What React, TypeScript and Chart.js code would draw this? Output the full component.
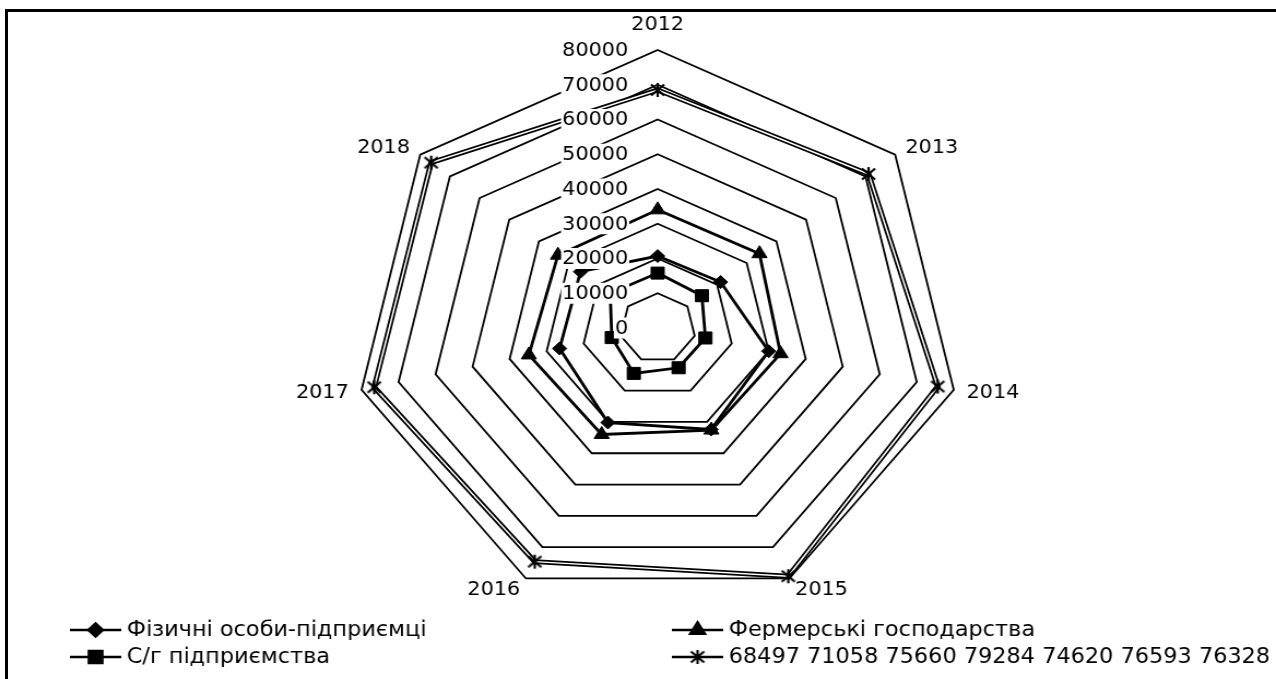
import React, { useEffect, useRef } from 'react';
import { Chart, registerables } from 'chart.js';
import { drawPoint } from 'chart.js/helpers';

Chart.register(...registerables);

// ---- data ----
const years = ['2012', '2013', '2014', '2015', '2016', '2017', '2018'];
const fizOsoby = [20700, 21200, 30000, 32400, 30200, 26500, 26000];
const fermerski = [34000, 34300, 33200, 32600, 34000, 34800, 33600];
const sgPidpr = [15800, 14900, 12900, 12700, 14500, 12400, 16000];
const totals = [68497, 71058, 75660, 79284, 74620, 76593, 76328];

const nameFiz = 'Фізичні особи-підприємці';
const nameFerm = 'Фермерські господарства';
const nameSg = 'С/г підприємства';
const nameTotal = totals.join(' ');

const axisMin = 0;
const axisMax = 80000;
const axisStep = 10000;

// ---- layout ----
const CANVAS_W = 1168;
const CANVAS_H = 679;
const SX = 1276 / CANVAS_W;
const FONT = '"DejaVu Sans", Verdana, sans-serif';
const FONT_SIZE = 19;
const LEGEND_FONT_SIZE = 20.5;

function makeStar(): HTMLCanvasElement {
  const c = document.createElement('canvas');
  c.width = 16;
  c.height = 16;
  const g = c.getContext('2d') as CanvasRenderingContext2D;
  g.strokeStyle = '#000';
  g.lineWidth = 2.2;
  g.beginPath();
  g.moveTo(2, 2.5);
  g.lineTo(14, 13.5);
  g.moveTo(14, 2.5);
  g.lineTo(2, 13.5);
  g.moveTo(8, 1);
  g.lineTo(8, 15);
  g.stroke();
  return c;
}

const textPlugin = {
  id: 'textPlugin',
  afterDatasetsDraw(chart: any) {
    const r = chart.scales.r;
    const ctx: CanvasRenderingContext2D = chart.ctx;
    ctx.save();
    ctx.font = `${FONT_SIZE}px ${FONT}`;
    ctx.textBaseline = 'middle';
    // radial tick labels, right aligned left of the vertical axis
    ctx.textAlign = 'right';
    r.ticks.forEach((t: any) => {
      const d = r.getDistanceFromCenterForValue(t.value);
      const y = r.yCenter - d;
      const x = r.xCenter - 27;
      const label = String(t.value);
      const w = ctx.measureText(label).width;
      ctx.fillStyle = '#fff';
      ctx.fillRect(x - w - 1, y - 10.5, w + 2, 21);
      ctx.fillStyle = '#000';
      ctx.fillText(label, x, y + 1);
    });
    // point labels
    (chart.data.labels as string[]).forEach((lab, i) => {
      const p = r.getPointPosition(i, r.drawingArea + 12);
      const dx = p.x - r.xCenter;
      const align = Math.abs(dx) < 1 ? 'center' : dx > 0 ? 'left' : 'right';
      let y = p.y;
      if (align === 'center') y -= 14;
      ctx.textAlign = align as CanvasTextAlign;
      ctx.fillStyle = '#000';
      ctx.fillText(lab, p.x, y + 1);
    });
    ctx.restore();
  },
};

const legendPlugin = {
  id: 'legendPlugin',
  afterDraw(chart: any) {
    const ctx: CanvasRenderingContext2D = chart.ctx;
    const star = (chart as any).$star;
    const items = [
      { text: nameFiz, style: 'rectRot', radius: 6.5, col: 0, row: 0 },
      { text: nameSg, style: 'rect', radius: 8.5, col: 0, row: 1 },
      { text: nameFerm, style: 'triangle', radius: 7.5, col: 1, row: 0 },
      { text: nameTotal, style: star, radius: 7, col: 1, row: 1 },
    ];
    const cols = [64, 615];
    const rows = [630, 657];
    ctx.save();
    ctx.font = `${LEGEND_FONT_SIZE}px ${FONT}`;
    ctx.textBaseline = 'middle';
    ctx.textAlign = 'left';
    items.forEach((it) => {
      const x0 = cols[it.col];
      const y = rows[it.row];
      ctx.strokeStyle = '#000';
      ctx.lineWidth = 2.6;
      ctx.beginPath();
      ctx.moveTo(x0, y);
      ctx.lineTo(x0 + 47, y);
      ctx.stroke();
      ctx.fillStyle = '#000';
      ctx.strokeStyle = '#000';
      drawPoint(ctx, { pointStyle: it.style, radius: it.radius, borderWidth: 1, rotation: 0 } as any, x0 + 23.5, y);
      ctx.fillStyle = '#000';
      ctx.fillText(it.text, x0 + 52, y + 1);
    });
    ctx.restore();
  },
};

export default function App() {
  const ref = useRef<HTMLCanvasElement | null>(null);

  useEffect(() => {
    if (!ref.current) return;
    const star = makeStar();
    const common = {
      fill: false,
      tension: 0,
      borderColor: '#000',
      backgroundColor: '#000',
      pointBackgroundColor: '#000',
      pointBorderColor: '#000',
      pointBorderWidth: 1,
    };
    const chart = new Chart(ref.current, {
      type: 'radar',
      data: {
        labels: years,
        datasets: [
          { ...common, label: nameFiz, data: fizOsoby, borderWidth: 2.8, pointStyle: 'rectRot', pointRadius: 6.5, order: 1 },
          { ...common, label: nameFerm, data: fermerski, borderWidth: 2.8, pointStyle: 'triangle', pointRadius: 8, order: 2 },
          { ...common, label: nameSg, data: sgPidpr, borderWidth: 2.8, pointStyle: 'rect', pointRadius: 8.5, order: 3 },
          { ...common, label: nameTotal, data: totals, borderWidth: 5, pointRadius: 0, order: 10 },
          { ...common, label: '_inner', data: totals, borderColor: '#fff', borderWidth: 1.5, pointRadius: 0, order: 9 },
          {
            ...common,
            label: '_points',
            data: totals,
            showLine: false,
            borderWidth: 0,
            borderColor: 'rgba(0,0,0,0)',
            pointStyle: star as any,
            pointRadius: 8,
            order: 8,
          },
        ] as any,
      },
      options: {
        responsive: false,
        animation: false,
        events: [],
        devicePixelRatio: 1,
        layout: {
          padding: { left: 324, top: 50, right: CANVAS_W - 324 - 556, bottom: CANVAS_H - 50 - 556 },
        },
        plugins: {
          legend: { display: false },
          tooltip: { enabled: false },
          title: { display: false },
        },
        scales: {
          r: {
            min: axisMin,
            max: axisMax,
            ticks: { stepSize: axisStep, display: false },
            grid: { color: '#000', lineWidth: 1.8, circular: false },
            angleLines: { display: false },
            pointLabels: { display: false },
          },
        },
      } as any,
      plugins: [textPlugin, legendPlugin],
    });
    (chart as any).$star = star;
    chart.draw();
    return () => chart.destroy();
  }, []);

  return (
    <div
      style={{
        position: 'fixed',
        left: 0,
        top: 0,
        width: 1276,
        height: 679,
        overflow: 'hidden',
        background: '#fff',
      }}
    >
      <div
        style={{
          position: 'absolute',
          left: 5,
          top: 9,
          width: 1400,
          height: 800,
          border: '3px solid #000',
        }}
      />
      <canvas
        ref={ref}
        width={CANVAS_W}
        height={CANVAS_H}
        style={{
          position: 'absolute',
          left: 0,
          top: 0,
          transform: `scaleX(${SX})`,
          transformOrigin: '0 0',
        }}
      />
    </div>
  );
}
